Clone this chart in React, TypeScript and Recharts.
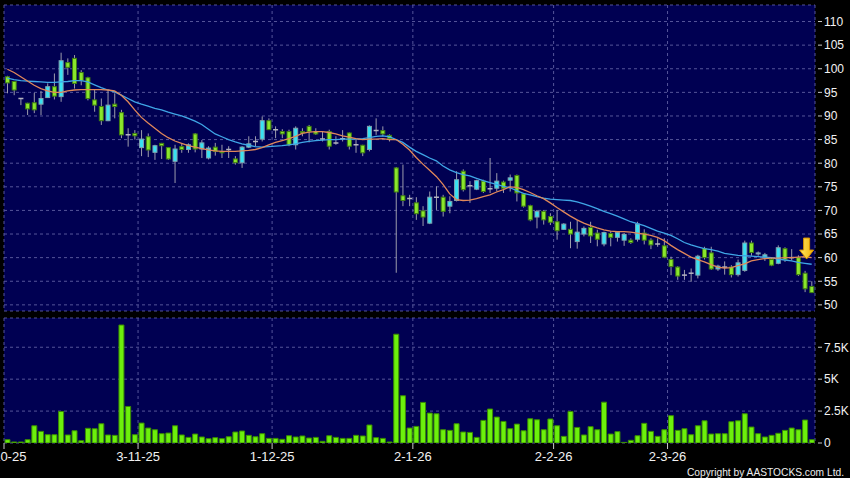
import React from 'react';
import {Bar, CartesianGrid, ComposedChart, Line, ReferenceDot, XAxis, YAxis} from 'recharts';

// daily candles, oldest first (2 Oct 2025 -> 31 Mar 2026)
const OPEN = [
    98.3, 97.3, 93.7, 92.7, 92.8, 92.5, 93.9, 96.2, 94.1, 101.3,
    102.2, 99.2, 98.1, 93.4, 92.0, 89.0, 92.5, 90.7, 86.0, 86.3,
    83.3, 85.6, 82.3, 84.2, 83.3, 80.4, 83.5, 82.9, 86.2, 83.0,
    81.1, 83.4, 82.5, 82.9, 80.9, 80.1, 83.4, 84.6, 85.1, 89.0,
    87.1, 86.7, 86.7, 83.9, 86.7, 87.8, 86.7, 85.1, 86.7, 84.3,
    85.2, 86.4, 83.9, 83.8, 82.9, 86.9, 86.9, 85.9, 79.0, 73.1,
    72.5, 71.6, 69.9, 67.3, 72.8, 72.8, 70.9, 72.1, 78.3, 75.2,
    74.5, 76.2, 74.6, 74.7, 76.0, 76.4, 77.4, 73.5, 71.0, 68.6,
    69.8, 68.7, 67.6, 66.0, 66.0, 63.4, 65.0, 66.4, 65.2, 62.9,
    65.1, 64.3, 63.7, 63.7, 63.9, 65.2, 63.7, 62.9, 62.5, 59.6,
    58.0, 56.3, 56.7, 56.3, 61.9, 61.0, 57.6, 58.0, 58.0, 56.4,
    57.3, 63.1, 60.8, 60.1, 59.6, 58.8, 61.9, 60.0, 60.0, 56.7,
    53.9,
];
const HIGH = [
    98.5, 97.4, 93.8, 92.8, 94.9, 95.3, 96.9, 99.0, 103.4, 102.2,
    102.9, 99.7, 98.3, 95.5, 93.7, 95.5, 94.8, 91.3, 87.4, 87.0,
    87.0, 86.3, 83.9, 84.3, 83.4, 83.9, 84.2, 84.2, 86.4, 84.9,
    83.6, 84.3, 83.9, 83.6, 81.5, 83.6, 85.7, 85.7, 89.9, 89.5,
    87.8, 87.2, 87.1, 87.8, 87.4, 88.1, 87.4, 86.7, 87.1, 85.7,
    87.0, 86.5, 85.0, 83.9, 88.0, 89.5, 87.8, 86.1, 79.2, 79.7,
    73.3, 72.8, 70.9, 74.0, 75.1, 73.3, 73.0, 78.3, 78.7, 76.2,
    76.5, 76.5, 81.1, 77.9, 76.3, 77.6, 77.6, 73.7, 71.2, 70.1,
    70.1, 69.4, 70.1, 67.3, 67.6, 68.0, 66.6, 67.6, 65.9, 65.5,
    65.6, 65.6, 65.2, 64.1, 67.6, 66.0, 64.1, 64.1, 64.1, 60.2,
    58.2, 57.4, 57.7, 60.6, 62.3, 62.3, 58.5, 59.2, 58.4, 59.6,
    63.6, 63.6, 61.3, 61.0, 60.0, 62.6, 62.2, 61.8, 60.5, 57.2,
    55.0,
];
const LOW = [
    94.8, 94.4, 92.3, 90.2, 90.6, 90.2, 93.8, 93.5, 93.0, 98.7,
    95.8, 96.5, 93.3, 90.9, 88.1, 88.9, 89.5, 85.3, 83.5, 85.0,
    81.5, 81.3, 80.7, 80.9, 80.7, 75.8, 82.2, 82.2, 82.3, 81.1,
    80.8, 81.6, 81.1, 81.1, 79.7, 79.0, 83.2, 83.6, 84.6, 87.1,
    85.3, 85.3, 83.6, 82.9, 85.7, 84.4, 86.0, 84.6, 82.9, 83.9,
    84.6, 82.9, 82.2, 81.5, 82.5, 86.0, 85.7, 84.6, 56.8, 70.9,
    70.9, 68.0, 66.7, 67.1, 70.1, 68.7, 69.4, 71.9, 74.0, 71.6,
    74.3, 73.7, 73.7, 74.0, 73.7, 74.0, 71.9, 70.6, 67.7, 66.2,
    67.0, 66.9, 63.8, 65.9, 62.0, 61.9, 64.5, 63.1, 62.4, 62.4,
    62.4, 63.4, 62.5, 62.9, 63.4, 62.8, 61.8, 62.3, 59.9, 56.3,
    55.3, 55.3, 54.9, 55.6, 59.6, 57.4, 57.2, 56.4, 55.8, 56.0,
    57.0, 60.4, 60.4, 59.3, 58.2, 58.6, 59.1, 59.4, 56.1, 52.7,
    52.5,
];
const CLOSE = [
    97.0, 95.5, 93.7, 91.5, 91.3, 93.7, 96.2, 94.2, 101.7, 100.3,
    96.9, 97.5, 93.7, 92.3, 89.0, 92.3, 92.0, 86.0, 86.0, 85.8,
    85.1, 82.8, 83.7, 83.7, 80.9, 83.0, 82.9, 83.9, 83.0, 84.3,
    83.2, 82.5, 82.2, 82.9, 80.1, 83.4, 84.1, 84.6, 89.0, 87.1,
    87.1, 86.2, 83.9, 87.4, 86.4, 86.7, 86.2, 85.1, 83.6, 84.3,
    85.2, 83.6, 83.9, 82.2, 87.8, 86.9, 86.2, 85.2, 73.9, 72.1,
    72.5, 69.3, 68.6, 72.8, 72.8, 69.8, 71.9, 76.5, 74.4, 75.2,
    76.3, 74.0, 74.6, 76.2, 74.7, 76.9, 73.7, 70.9, 68.0, 69.8,
    68.0, 67.5, 65.7, 67.1, 65.0, 65.4, 66.2, 64.6, 63.9, 65.3,
    64.3, 65.3, 64.9, 63.2, 67.1, 63.7, 62.7, 62.9, 60.1, 58.1,
    56.1, 56.3, 56.7, 60.3, 60.0, 57.6, 58.2, 58.0, 56.4, 58.9,
    63.1, 61.1, 61.0, 60.6, 58.4, 62.1, 59.6, 60.0, 56.4, 53.4,
    52.6,
];
// thousands of shares
const VOLUME_K = [
    0.26, 0.08, 0.08, 0.26, 1.35, 0.91, 0.65, 0.65, 2.47, 0.63,
    0.96, 0.18, 1.15, 1.12, 1.51, 0.63, 0.6, 9.24, 2.86, 0.65,
    1.56, 1.17, 1.04, 0.73, 0.78, 1.35, 0.63, 0.44, 0.7, 0.47,
    0.34, 0.42, 0.34, 0.49, 0.86, 0.94, 0.6, 0.49, 0.73, 0.36,
    0.36, 0.29, 0.57, 0.47, 0.55, 0.39, 0.44, 0.13, 0.57, 0.44,
    0.36, 0.36, 0.6, 0.55, 1.41, 0.42, 0.36, 0.08, 8.52, 3.7,
    1.17, 1.3, 3.18, 2.34, 2.29, 1.04, 0.99, 1.51, 0.86, 0.83,
    0.44, 1.77, 2.66, 2.03, 1.69, 1.12, 1.48, 0.96, 1.9, 1.82,
    1.04, 1.88, 1.35, 0.52, 2.47, 1.22, 0.63, 1.28, 1.04, 3.2,
    0.7, 0.89, 0.05, 0.21, 0.57, 1.54, 0.91, 0.52, 1.04, 2.14,
    0.99, 1.12, 0.65, 1.35, 1.74, 0.7, 0.73, 0.73, 1.67, 1.74,
    2.29, 1.25, 0.73, 0.47, 0.6, 0.76, 0.99, 1.17, 1.04, 1.8,
    0.26,
];
// moving averages as plotted (orange = short, blue = long)
const MA_SHORT = [
    99.9, 99.2, 98.3, 97.4, 96.5, 95.8, 95.3, 95.0, 95.0, 95.3,
    95.5, 95.6, 95.6, 95.6, 95.6, 95.5, 95.3, 94.4, 93.0, 91.3,
    89.7, 88.5, 87.4, 86.3, 85.4, 84.7, 84.2, 83.7, 83.4, 83.1,
    82.8, 82.6, 82.5, 82.5, 82.5, 82.6, 82.7, 82.9, 83.3, 83.9,
    84.4, 84.8, 85.2, 85.7, 86.3, 86.6, 86.7, 86.7, 86.5, 86.2,
    85.8, 85.5, 85.2, 85.0, 85.1, 85.1, 85.2, 85.0, 85.0, 84.0,
    82.8, 81.2, 79.8, 78.5, 77.2, 75.5, 73.5, 72.3, 72.1, 72.2,
    72.5, 72.9, 73.3, 73.9, 74.4, 75.0, 74.9, 74.4, 73.8, 73.1,
    72.5, 71.6, 70.6, 69.7, 68.8, 68.0, 67.3, 66.8, 66.3, 65.9,
    65.6, 65.5, 65.5, 65.4, 65.2, 65.0, 64.7, 64.3, 63.6, 62.6,
    61.7, 60.9, 60.1, 59.6, 59.1, 58.5, 58.0, 57.8, 57.9, 58.3,
    58.7, 59.3, 59.6, 59.8, 59.9, 59.9, 60.0, 60.0, 60.1, 60.2,
    60.0,
];
const MA_LONG = [
    98.0, 97.7, 97.5, 97.4, 97.3, 97.2, 97.1, 97.1, 97.2, 97.3,
    97.5, 97.5, 97.2, 96.6, 96.0, 95.5, 95.1, 94.4, 93.7, 93.0,
    92.5, 92.1, 91.6, 91.3, 90.8, 90.4, 90.0, 89.5, 88.9, 88.2,
    87.2, 86.2, 85.6, 85.0, 84.5, 84.1, 83.8, 83.5, 83.4, 83.5,
    83.6, 83.7, 83.9, 84.1, 84.4, 84.6, 84.8, 84.9, 85.0, 85.0,
    85.1, 85.1, 85.1, 85.2, 85.4, 85.7, 85.8, 85.6, 85.0, 84.4,
    83.4, 82.5, 81.8, 81.1, 80.5, 79.4, 78.6, 78.0, 77.6, 77.3,
    76.8, 76.3, 75.9, 75.5, 75.1, 74.8, 74.2, 73.6, 73.3, 72.9,
    72.6, 72.4, 72.3, 72.2, 72.1, 71.8, 71.4, 70.9, 70.4, 69.8,
    69.3, 68.8, 68.2, 67.6, 67.2, 66.8, 66.2, 65.6, 65.2, 64.7,
    64.0, 63.2, 62.7, 62.3, 61.9, 61.7, 61.4, 60.9, 60.7, 60.5,
    60.4, 60.3, 60.2, 60.1, 60.0, 59.7, 59.5, 59.3, 59.0, 58.8,
    58.6,
];

const TICK_INDEX = [0, 20, 40, 61, 82, 99];
const TICK_LABEL = ['2-10-25', '3-11-25', '1-12-25', '2-1-26', '2-2-26', '2-3-26'];
const PRICE_TICKS = [50, 55, 60, 65, 70, 75, 80, 85, 90, 95, 100, 105, 110];
const VOLUME_TICKS = [0, 2.5, 5, 7.5];
const ARROW_AT = {x: 119.75, y: 59.7};
const COPYRIGHT = 'Copyright by AASTOCKS.com Ltd.';

const rows = OPEN.map((open, i) => ({
    x: i + 0.5,
    open,
    high: HIGH[i],
    low: LOW[i],
    close: CLOSE[i],
    range: [LOW[i], HIGH[i]],
    volume: VOLUME_K[i],
    maShort: MA_SHORT[i],
    maLong: MA_LONG[i],
}));

const NAVY = '#000052';
const GRID = '#55559a';
const FONT = "'Liberation Sans', Arial, sans-serif";

const Candle = (props: any) => {
    const {x, y, width, height, payload} = props;
    if (!payload || x == null || y == null) return null;
    const {open, close, high, low} = payload;
    const top = Math.min(y, y + height);
    const h = Math.abs(height);
    const span = high - low;
    const py = (v: number) => (span > 0 ? top + ((high - v) / span) * h : top);
    const mid = x + width / 2;
    const bodyTop = py(Math.max(open, close));
    const bodyBot = py(Math.min(open, close));
    const flat = Math.abs(close - open) < 0.05;
    const up = close > open;
    return (
        <g>
            <line x1={mid} x2={mid} y1={top} y2={top + h} stroke="#9c9cac" strokeWidth={1}/>
            {flat ? (
                <line x1={x} x2={x + width} y1={bodyTop} y2={bodyTop} stroke="#b4b4c0" strokeWidth={1.5}/>
            ) : (
                <rect
                    x={x + 0.5}
                    y={bodyTop}
                    width={width - 1}
                    height={Math.max(1, bodyBot - bodyTop)}
                    fill={up ? '#38e2f2' : '#8ae62c'}
                    stroke={up ? '#7fa4b0' : '#3f7c12'}
                    strokeWidth={1}
                />
            )}
        </g>
    );
};

const Arrow = ({cx, cy}: any) => {
    if (cx == null || cy == null) return null;
    const d = `M${cx - 3},${cy - 21} L${cx + 3},${cy - 21} L${cx + 3},${cy - 9} L${cx + 7},${cy - 9}
        L${cx},${cy} L${cx - 7},${cy - 9} L${cx - 3},${cy - 9} Z`;
    return (
        <g>
            <defs>
                <linearGradient id="arrowFill" x1="0" y1="0" x2="1" y2="0">
                    <stop offset="0" stopColor="#ffe866"/>
                    <stop offset="1" stopColor="#f2b000"/>
                </linearGradient>
            </defs>
            <path d={d} fill="url(#arrowFill)" stroke="#d89400" strokeWidth={1}/>
        </g>
    );
};

const RightTick = ({x, y, payload, fmt}: any) => (
    <g>
        <line x1={x - 6} x2={x - 2} y1={y} y2={y} stroke="#c8c8c8"/>
        <text x={x} y={y} dy="0.36em" fill="#f2f2f2" fontSize={12} fontFamily={FONT}>
            {fmt(payload.value)}
        </text>
    </g>
);

const fmtVolume = (v: number) => (v === 0 ? '0' : `${v}K`);

export default function App() {
    return (
        <div style={{position: 'absolute', left: 0, top: 0, width: 850, height: 478, background: '#000', overflow: 'hidden'}}>
            <div style={{position: 'absolute', left: 0, top: 0}}>
                <ComposedChart width={850} height={312} data={rows} margin={{top: 5, right: 0, bottom: 1, left: 4}}>
                    <CartesianGrid fill={NAVY} fillOpacity={1} stroke={GRID} strokeDasharray="3 3"/>
                    <XAxis type="number" dataKey="x" domain={[0, 121]} ticks={TICK_INDEX} hide/>
                    <YAxis
                        orientation="right"
                        width={35}
                        domain={[48.7, 113.5]}
                        allowDataOverflow
                        ticks={PRICE_TICKS}
                        interval={0}
                        axisLine={false}
                        tickLine={false}
                        tickSize={0}
                        tickMargin={9}
                        tick={(p: any) => <RightTick {...p} fmt={(v: number) => `${v}`}/>}
                    />
                    <Bar dataKey="range" barSize={5} shape={Candle} isAnimationActive={false}/>
                    <Line dataKey="maLong" stroke="#3fa6e6" strokeWidth={1.3} dot={false} type="linear" isAnimationActive={false}/>
                    <Line dataKey="maShort" stroke="#e0875a" strokeWidth={1.3} dot={false} type="linear" isAnimationActive={false}/>
                    <ReferenceDot x={ARROW_AT.x} y={ARROW_AT.y} shape={Arrow} ifOverflow="visible"/>
                </ComposedChart>
            </div>
            <div style={{position: 'absolute', left: 0, top: 312}}>
                <ComposedChart width={850} height={166} data={rows} margin={{top: 6, right: 0, bottom: 0, left: 4}}>
                    <CartesianGrid fill={NAVY} fillOpacity={1} stroke={GRID} strokeDasharray="3 3"/>
                    <XAxis
                        type="number"
                        dataKey="x"
                        domain={[0, 121]}
                        ticks={TICK_INDEX}
                        interval={0}
                        height={35}
                        axisLine={false}
                        tickSize={6}
                        tickMargin={3}
                        tickLine={{stroke: '#c8c8c8'}}
                        tick={{fill: '#f2f2f2', fontSize: 13, fontFamily: FONT}}
                        tickFormatter={(v: number) => TICK_LABEL[TICK_INDEX.indexOf(v)] ?? ''}
                    />
                    <YAxis
                        orientation="right"
                        width={35}
                        domain={[0, 9.79]}
                        allowDataOverflow
                        ticks={VOLUME_TICKS}
                        interval={0}
                        axisLine={false}
                        tickLine={false}
                        tickSize={0}
                        tickMargin={9}
                        tick={(p: any) => <RightTick {...p} fmt={fmtVolume}/>}
                    />
                    <Bar dataKey="volume" barSize={5} fill="#6cf00c" stroke="#3a8c00" strokeWidth={1} isAnimationActive={false}/>
                </ComposedChart>
            </div>
            <svg width={850} height={478} style={{position: 'absolute', left: 0, top: 0, pointerEvents: 'none'}}>
                <text
                    x={844}
                    y={475.5}
                    textAnchor="end"
                    textLength={157}
                    lengthAdjust="spacingAndGlyphs"
                    fill="#ececec"
                    fontSize={11.5}
                    fontFamily={FONT}
                >
                    {COPYRIGHT}
                </text>
            </svg>
        </div>
    );
}
